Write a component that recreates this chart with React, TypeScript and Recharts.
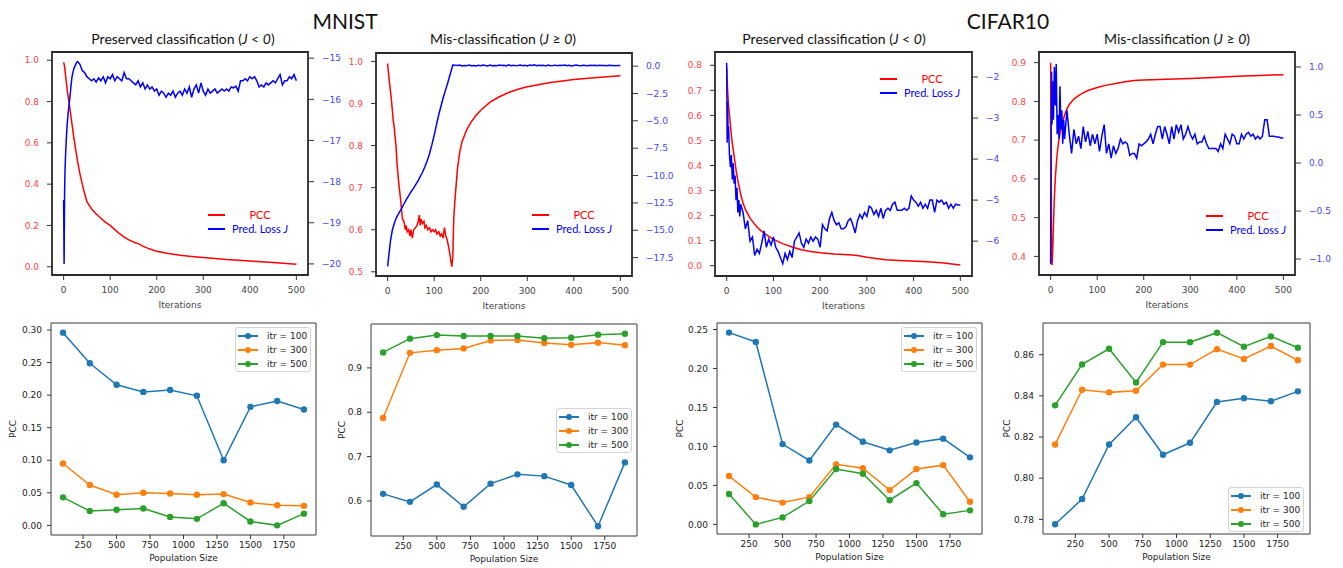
import React from 'react'
import { LineChart, Line, XAxis, YAxis, ReferenceArea, Legend } from 'recharts'

const TICK_FONT = '"DejaVu Sans", sans-serif'
const TITLE_FONT = 'Lato, sans-serif'

// ---------- top row: PCC and predicted loss over iterations ----------
const ITER_TICKS = [0, 100, 200, 300, 400, 500]
const ITER_DOMAIN = [-25, 525]

// iterations at which the loss traces were read
const LOSS_ITER = [
  0, 1, 2, 3, 4, 6, 8, 10, 12, 14, 16, 18, 20, 22, 24, 26, 28, 30,
  35, 40, 45, 50, 55, 60, 65, 70, 75, 80,
  85, 90, 95, 100, 105, 110, 115, 120, 125, 130,
  135, 140, 145, 150, 155, 160, 165, 170, 175, 180,
  185, 190, 195, 200, 205, 210, 215, 220, 225, 230,
  235, 240, 245, 250, 255, 260, 265, 270, 275, 280,
  285, 290, 295, 300, 305, 310, 315, 320, 325, 330,
  335, 340, 345, 350, 355, 360, 365, 370, 375, 380,
  385, 390, 395, 400, 405, 410, 415, 420, 425, 430,
  435, 440, 445, 450, 455, 460, 465, 470, 475, 480,
  485, 490, 495, 500,
]

const MNIST_PRES_LOSS = [
  -18.45, -20.0, -18.3, -17.7, -17.4, -16.9, -16.55, -16.3, -16.1, -15.9, -15.65, -15.45, -15.35, -15.25, -15.2, -15.15, -15.1, -15.08,
  -15.15, -15.3, -15.35, -15.45, -15.5, -15.55, -15.5, -15.58, -15.48, -15.55,
  -15.45, -15.6, -15.45, -15.5, -15.4, -15.55, -15.45, -15.5, -15.55, -15.35,
  -15.5, -15.5, -15.55, -15.6, -15.65, -15.55, -15.7, -15.6, -15.75, -15.65,
  -15.75, -15.7, -15.8, -15.75, -15.9, -15.8, -15.85, -15.95, -15.85, -15.9,
  -15.8, -15.95, -15.85, -15.8, -15.9, -15.75, -15.85, -15.7, -15.95, -15.75,
  -15.65, -15.85, -15.6, -15.8, -15.9, -15.75, -15.85, -15.8, -15.75, -15.85,
  -15.8, -15.75, -15.8, -15.75, -15.8, -15.7, -15.72, -15.68, -15.8, -15.55,
  -15.55, -15.5, -15.55, -15.45, -15.5, -15.45, -15.55, -15.7, -15.65, -15.7,
  -15.6, -15.65, -15.6, -15.55, -15.6, -15.5, -15.4, -15.65, -15.55, -15.55,
  -15.45, -15.5, -15.4, -15.55,
]

const MNIST_MIS_LOSS = [
  -18.3, -17.9, -17.5, -17.1, -16.8, -16.0, -15.5, -15.0, -14.7, -14.4, -14.15, -13.95, -13.75, -13.6, -13.45, -13.3, -13.15, -13.0,
  -12.6, -12.2, -11.85, -11.5, -11.2, -10.85, -10.5, -10.1, -9.7, -9.2,
  -8.65, -8.0, -7.2, -6.3, -5.35, -4.4, -3.6, -2.8, -2.1, -1.4,
  -0.65, 0.1, 0.08, 0.05, 0.1, 0.02, 0.06, 0.04, 0.1, 0.03,
  0.06, 0.02, 0.08, 0.04, 0.1, 0.05, 0.02, 0.09, 0.04, 0.06,
  0.03, 0.1, 0.05, 0.07, 0.02, 0.12, 0.04, 0.08, 0.03, 0.06,
  0.1, 0.04, 0.07, 0.02, 0.09, 0.05, 0.12, 0.03, 0.07, 0.05,
  0.08, 0.02, 0.1, 0.04, 0.06, 0.09, 0.03, 0.07, 0.05, 0.1,
  0.04, 0.08, 0.02, 0.06, 0.1, 0.05, 0.03, 0.08, 0.06, 0.04,
  0.09, 0.05, 0.07, 0.03, 0.08, 0.05, 0.06, 0.04, 0.07, 0.05,
  0.06, 0.04, 0.05, 0.05,
]

const CIFAR_PRES_LOSS = [
  -1.65, -3.6, -2.6, -3.5, -3.2, -3.9, -4.2, -3.9, -4.5, -4.1, -4.6, -4.4, -5.0, -4.7, -5.3, -5.0, -5.4, -5.1,
  -5.3, -5.7, -5.5, -6.0, -5.9, -6.35, -6.2, -6.3, -6.05, -5.75,
  -6.15, -5.95, -6.1, -5.9, -6.15, -6.25, -6.4, -6.55, -6.3, -6.45,
  -6.25, -6.4, -6.0, -5.9, -5.8, -6.05, -6.15, -5.95, -6.05, -5.9,
  -6.0, -5.9, -5.95, -6.15, -5.6, -5.7, -5.75, -5.45, -5.3, -5.5,
  -5.6, -5.55, -5.7, -5.7, -5.65, -5.5, -5.45, -5.6, -5.8, -5.5,
  -5.35, -5.45, -5.3, -5.4, -5.15, -5.2, -5.35, -5.25, -5.4, -5.2,
  -5.45, -5.25, -5.2, -5.25, -5.1, -5.05, -5.25, -5.25, -5.25, -5.2,
  -5.25, -5.2, -4.9, -5.0, -5.05, -5.15, -5.05, -5.2, -5.1, -5.2,
  -5.0, -5.0, -5.3, -5.0, -5.05, -5.0, -5.1, -5.05, -5.2, -5.1,
  -5.2, -5.1, -5.12, -5.12,
]

const CIFAR_MIS_LOSS = [
  -1.05, 0.3, 0.95, 0.4, 0.85, 0.45, 1.0, 0.6, 1.03, 0.3, 0.5, 0.25, 0.8, 0.35, 0.55, 0.2, 0.45, 0.25,
  0.55, 0.3, 0.1, 0.35, 0.2, 0.28, 0.15, 0.38, 0.22, 0.33,
  0.18, 0.3, 0.2, 0.3, 0.12, 0.28, 0.4, 0.1, 0.2, 0.05,
  0.18, 0.1, 0.15, 0.25, 0.2, 0.22, 0.2, 0.08, 0.1, 0.1,
  0.05, 0.2, 0.18, 0.2, 0.22, 0.25, 0.3, 0.2, 0.3, 0.38,
  0.38, 0.25, 0.38, 0.3, 0.2, 0.38, 0.25, 0.4, 0.32, 0.4,
  0.25, 0.3, 0.38, 0.3, 0.25, 0.3, 0.2, 0.22, 0.22, 0.28,
  0.2, 0.15, 0.15, 0.15, 0.15, 0.12, 0.2, 0.15, 0.3, 0.25,
  0.2, 0.3, 0.28, 0.2, 0.2, 0.3, 0.25, 0.3, 0.32, 0.28,
  0.3, 0.25, 0.28, 0.25, 0.28, 0.45, 0.45, 0.28, 0.28, 0.28,
  0.27, 0.27, 0.26, 0.26,
]

const MNIST_PRES_PCC_ITER = [0, 2, 4, 6, 8, 10, 12, 15, 18, 21, 25, 30, 35, 40, 45, 50, 60, 70, 80, 90, 100, 110, 120, 130, 140, 150, 160, 170, 180, 190, 200, 225, 250, 275, 300, 350, 400, 450, 500]
const MNIST_PRES_PCC = [0.99, 0.97, 0.93, 0.89, 0.85, 0.82, 0.79, 0.74, 0.69, 0.64, 0.58, 0.51, 0.45, 0.4, 0.355, 0.315, 0.28, 0.255, 0.235, 0.215, 0.2, 0.18, 0.16, 0.143, 0.13, 0.12, 0.112, 0.1, 0.09, 0.082, 0.075, 0.064, 0.056, 0.05, 0.045, 0.035, 0.028, 0.02, 0.012]

const MNIST_MIS_PCC_ITER = [0, 2, 4, 6, 8, 10, 12, 14, 16, 18, 20, 22, 24, 26, 28, 30, 32, 35, 38, 40, 42, 45, 48, 50, 53, 56, 60, 63, 66, 68, 70, 72, 75, 78, 80, 83, 86, 90, 93, 96, 100, 103, 106, 110, 113, 116, 119, 122, 125, 128, 131, 134, 136, 138, 140, 141, 142, 144, 146, 150, 155, 160, 170, 180, 190, 200, 220, 240, 260, 280, 300, 350, 400, 450, 500]
const MNIST_MIS_PCC = [0.995, 0.97, 0.95, 0.93, 0.91, 0.885, 0.86, 0.845, 0.82, 0.8, 0.76, 0.735, 0.71, 0.69, 0.67, 0.645, 0.625, 0.62, 0.6, 0.61, 0.595, 0.6, 0.585, 0.6, 0.58, 0.6, 0.605, 0.61, 0.62, 0.635, 0.61, 0.625, 0.615, 0.62, 0.605, 0.61, 0.6, 0.605, 0.595, 0.6, 0.595, 0.6, 0.59, 0.595, 0.585, 0.59, 0.58, 0.605, 0.585, 0.575, 0.56, 0.54, 0.525, 0.512, 0.535, 0.58, 0.625, 0.66, 0.69, 0.745, 0.785, 0.81, 0.838, 0.857, 0.872, 0.884, 0.903, 0.916, 0.926, 0.934, 0.94, 0.95, 0.957, 0.962, 0.966]

const CIFAR_PRES_PCC_ITER = [0, 2, 4, 6, 8, 10, 12, 15, 18, 21, 25, 30, 35, 40, 50, 60, 70, 80, 90, 100, 120, 140, 160, 180, 200, 230, 260, 280, 300, 340, 380, 420, 460, 500]
const CIFAR_PRES_PCC = [0.79, 0.7, 0.64, 0.6, 0.56, 0.52, 0.49, 0.45, 0.41, 0.37, 0.33, 0.285, 0.25, 0.225, 0.19, 0.165, 0.145, 0.13, 0.117, 0.105, 0.088, 0.075, 0.064, 0.057, 0.052, 0.047, 0.044, 0.041, 0.034, 0.024, 0.02, 0.017, 0.012, 0.003]

const CIFAR_MIS_PCC_ITER = [0, 1, 2, 3, 4, 5, 6, 7, 8, 10, 12, 14, 17, 20, 25, 30, 35, 40, 50, 60, 70, 80, 100, 120, 140, 160, 180, 200, 250, 300, 350, 400, 450, 500]
const CIFAR_MIS_PCC = [0.9, 0.65, 0.38, 0.38, 0.4, 0.44, 0.48, 0.52, 0.55, 0.6, 0.635, 0.665, 0.695, 0.717, 0.745, 0.765, 0.78, 0.792, 0.806, 0.815, 0.822, 0.828, 0.836, 0.842, 0.846, 0.851, 0.854, 0.855, 0.857, 0.859, 0.862, 0.865, 0.867, 0.869]

// ---------- bottom row: PCC vs population size ----------
const POP_SIZES = [100, 300, 500, 700, 900, 1100, 1300, 1500, 1700, 1900]
const POP_TICKS = [250, 500, 750, 1000, 1250, 1500, 1750]
const POP_DOMAIN = [10, 1990]

const MNIST_PRES_100 = [0.296, 0.249, 0.216, 0.205, 0.208, 0.199, 0.1, 0.182, 0.191, 0.178]
const MNIST_PRES_300 = [0.095, 0.062, 0.047, 0.05, 0.049, 0.047, 0.048, 0.035, 0.031, 0.03]
const MNIST_PRES_500 = [0.043, 0.022, 0.024, 0.026, 0.013, 0.01, 0.034, 0.006, 0.0, 0.018]

const MNIST_MIS_100 = [0.616, 0.598, 0.637, 0.587, 0.639, 0.66, 0.656, 0.636, 0.543, 0.687]
const MNIST_MIS_300 = [0.787, 0.934, 0.94, 0.944, 0.962, 0.963, 0.956, 0.952, 0.957, 0.951]
const MNIST_MIS_500 = [0.935, 0.966, 0.974, 0.972, 0.972, 0.972, 0.967, 0.968, 0.975, 0.977]

const CIFAR_PRES_100 = [0.246, 0.234, 0.103, 0.082, 0.128, 0.106, 0.095, 0.105, 0.11, 0.086]
const CIFAR_PRES_300 = [0.062, 0.035, 0.028, 0.035, 0.077, 0.072, 0.044, 0.071, 0.076, 0.029]
const CIFAR_PRES_500 = [0.039, 0.0, 0.009, 0.03, 0.071, 0.065, 0.031, 0.053, 0.013, 0.018]

const CIFAR_MIS_100 = [0.7776, 0.7899, 0.8164, 0.8296, 0.8114, 0.8172, 0.837, 0.8389, 0.8374, 0.8422]
const CIFAR_MIS_300 = [0.8164, 0.843, 0.8417, 0.8425, 0.8552, 0.8552, 0.8627, 0.8579, 0.8642, 0.8573]
const CIFAR_MIS_500 = [0.8354, 0.8553, 0.8629, 0.8465, 0.8661, 0.8661, 0.8707, 0.8639, 0.8689, 0.8634]

const ITR_SERIES = [
  { key: 'a', name: 'itr = 100', color: '#1f77b4' },
  { key: 'b', name: 'itr = 300', color: '#ff7f0e' },
  { key: 'c', name: 'itr = 500', color: '#2ca02c' },
]

const zip = (xs: number[], ys: number[]) => xs.map((x, i) => ({ x, y: ys[i] }))
const popTable = (a: number[], b: number[], c: number[]) =>
  POP_SIZES.map((x, i) => ({ x, a: a[i], b: b[i], c: c[i] }))

const fmt = (d: number) => (v: number) => (v < 0 ? '\u2212' : '') + Math.abs(v).toFixed(d)

const xLabel = (text: string, dy: number, fill: string) => (p: any) => {
  const vb = p.viewBox
  return (
    <text x={vb.x + vb.width / 2} y={vb.y + dy} textAnchor="middle" dominantBaseline="central"
      fontSize={9} fontFamily={TICK_FONT} fill={fill}>{text}</text>
  )
}

const yLabel = (text: string, dx: number) => (p: any) => {
  const vb = p.viewBox
  const cx = vb.x + vb.width - dx
  const cy = vb.y + vb.height / 2
  return (
    <text x={cx} y={cy} transform={`rotate(-90 ${cx} ${cy})`} textAnchor="middle" dominantBaseline="central"
      fontSize={9} fontFamily={TICK_FONT} fill="#222">{text}</text>
  )
}

const TopLegend = ({ payload }: any) => (
  <div style={{ fontFamily: TITLE_FONT, fontSize: 11, width: 90 }}>
    {(payload || []).map((e: any) => (
      <div key={e.value} style={{ display: 'flex', alignItems: 'center', height: 14 }}>
        <div style={{ width: 17, height: 2, background: e.color }} />
        <div style={{ width: 62, marginLeft: 4, textAlign: 'center', color: e.color, whiteSpace: 'nowrap', lineHeight: '14px' }}>
          {e.value === 'Pred. Loss J' ? <>Pred. Loss <i>J</i></> : e.value}
        </div>
      </div>
    ))}
  </div>
)

const BottomLegend = ({ payload }: any) => (
  <div style={{
    width: 74, height: 42, paddingTop: 1, border: '1px solid #d4d4d4', borderRadius: 3,
    background: 'rgba(255,255,255,0.85)', fontFamily: TICK_FONT, fontSize: 9, color: '#222',
  }}>
    {(payload || []).map((e: any) => (
      <div key={e.value} style={{ position: 'relative', height: 14 }}>
        <div style={{ position: 'absolute', left: 2, top: 6.3, width: 20, height: 1.5, background: e.color }} />
        <div style={{ position: 'absolute', left: 8.8, top: 3.8, width: 6.5, height: 6.5, borderRadius: '50%', background: e.color }} />
        <div style={{ position: 'absolute', left: 31, top: 0, lineHeight: '14px', whiteSpace: 'nowrap' }}>{e.value}</div>
      </div>
    ))}
  </div>
)

type Box = { x0: number; y0: number; x1: number; y1: number }
type Side = { domain: number[]; ticks: number[]; digits: number }

function TopPanel({ box, left, right, pcc, loss, legendAt }: {
  box: Box; left: Side; right: Side; pcc: any[]; loss: any[]; legendAt: { x: number; y: number }
}) {
  const LW = 44, RW = 48, MT = 4, XH = 44
  const pw = box.x1 - box.x0
  const ph = box.y1 - box.y0
  return (
    <div style={{ position: 'absolute', left: box.x0 - LW, top: box.y0 - MT }}>
      <LineChart width={LW + pw + RW} height={MT + ph + XH} margin={{ top: MT, right: 0, bottom: 0, left: 0 }}>
        <XAxis type="number" dataKey="x" domain={ITER_DOMAIN} ticks={ITER_TICKS} allowDataOverflow
          height={XH} axisLine={false} tickSize={5} tickMargin={7} stroke="#333"
          tick={{ fill: '#444', fontSize: 9, fontFamily: TICK_FONT }}
          label={xLabel('Iterations', 30, '#444')} />
        <YAxis yAxisId="l" type="number" domain={left.domain} ticks={left.ticks} tickFormatter={fmt(left.digits)}
          allowDataOverflow width={LW} axisLine={false} tickSize={5} tickMargin={8} stroke="#333"
          tick={{ fill: '#ff4545', fontSize: 9, fontFamily: TICK_FONT }} />
        <YAxis yAxisId="r" orientation="right" type="number" domain={right.domain} ticks={right.ticks}
          tickFormatter={fmt(right.digits)} allowDataOverflow width={RW} axisLine={false} tickSize={6} tickMargin={8}
          stroke="#333" tick={{ fill: '#4545ff', fontSize: 9, fontFamily: TICK_FONT }} />
        <ReferenceArea yAxisId="l" x1={ITER_DOMAIN[0]} x2={ITER_DOMAIN[1]} y1={left.domain[0]} y2={left.domain[1]}
          fill="none" fillOpacity={0} stroke="#2a2a2a" strokeWidth={1.8} ifOverflow="visible" />
        <Line yAxisId="l" data={pcc} dataKey="y" name="PCC" stroke="#ff0000" strokeWidth={1.5}
          dot={false} isAnimationActive={false} />
        <Line yAxisId="r" data={loss} dataKey="y" name="Pred. Loss J" stroke="#0000ff" strokeWidth={1.5}
          dot={false} isAnimationActive={false} />
        <Legend layout="horizontal" verticalAlign="middle" align="center" content={TopLegend}
          wrapperStyle={{ left: LW + legendAt.x, top: MT + legendAt.y - 7, width: 90 }} />
      </LineChart>
    </div>
  )
}

function BottomPanel({ box, data, domain, ticks, digits, legendAt, labelDx }: {
  box: Box; data: any[]; domain: number[]; ticks: number[]; digits: number; legendAt: { x: number; y: number }; labelDx: number
}) {
  const LW = 50, RW = 10, MT = 4, XH = 34
  const pw = box.x1 - box.x0
  const ph = box.y1 - box.y0
  return (
    <div style={{ position: 'absolute', left: box.x0 - LW, top: box.y0 - MT }}>
      <LineChart data={data} width={LW + pw + RW} height={MT + ph + XH} margin={{ top: MT, right: RW, bottom: 0, left: 0 }}>
        <XAxis type="number" dataKey="x" domain={POP_DOMAIN} ticks={POP_TICKS} allowDataOverflow
          height={XH} axisLine={false} tickSize={4} tickMargin={3} stroke="#333"
          tick={{ fill: '#222', fontSize: 9, fontFamily: TICK_FONT }}
          label={xLabel('Population Size', 23, '#222')} />
        <YAxis type="number" domain={domain} ticks={ticks} tickFormatter={fmt(digits)} allowDataOverflow
          width={LW} axisLine={false} tickSize={4} tickMargin={5} stroke="#333"
          tick={{ fill: '#222', fontSize: 9, fontFamily: TICK_FONT }}
          label={yLabel('PCC', labelDx)} />
        <ReferenceArea x1={POP_DOMAIN[0]} x2={POP_DOMAIN[1]} y1={domain[0]} y2={domain[1]}
          fill="none" fillOpacity={0} stroke="#3a3a3a" strokeWidth={1} ifOverflow="visible" />
        {ITR_SERIES.map((s) => (
          <Line key={s.key} dataKey={s.key} name={s.name} stroke={s.color} strokeWidth={1.5}
            dot={{ r: 3.2, fill: s.color, stroke: s.color, strokeWidth: 0 }} isAnimationActive={false} />
        ))}
        <Legend layout="horizontal" verticalAlign="middle" align="center" content={BottomLegend}
          wrapperStyle={{ left: LW + legendAt.x, top: MT + legendAt.y, width: 76 }} />
      </LineChart>
    </div>
  )
}

const TITLES = [
  { x: 183, text: 'Preserved classification', op: '<' },
  { x: 503, text: 'Mis-classification', op: '\u2265' },
  { x: 834, text: 'Preserved classification', op: '<' },
  { x: 1177, text: 'Mis-classification', op: '\u2265' },
]

const DATASETS = [
  { x: 345, text: 'MNIST' },
  { x: 1008, text: 'CIFAR10' },
]

export default function App() {
  return (
    <div style={{ position: 'absolute', left: 0, top: 0, width: 1343, height: 568, background: '#fff', overflow: 'hidden' }}>
      {DATASETS.map((d) => (
        <div key={d.text} style={{
          position: 'absolute', left: d.x, top: 8, transform: 'translateX(-50%)', fontFamily: TITLE_FONT,
          fontSize: 21, lineHeight: '26px', color: '#111', whiteSpace: 'nowrap',
        }}>{d.text}</div>
      ))}
      {TITLES.map((t) => (
        <div key={t.x} style={{
          position: 'absolute', left: t.x, top: 29.5, transform: 'translateX(-50%)', fontFamily: TITLE_FONT,
          fontSize: 14, lineHeight: '18px', color: '#111', whiteSpace: 'nowrap',
        }}>{t.text} (<i>J</i> {t.op} <i>0</i>)</div>
      ))}

      <TopPanel box={{ x0: 52, y0: 52, x1: 308, y1: 275 }}
        left={{ domain: [-0.04, 1.04], ticks: [0, 0.2, 0.4, 0.6, 0.8, 1.0], digits: 1 }}
        right={{ domain: [-20.27, -14.85], ticks: [-20, -19, -18, -17, -16, -15], digits: 0 }}
        pcc={zip(MNIST_PRES_PCC_ITER, MNIST_PRES_PCC)} loss={zip(LOSS_ITER, MNIST_PRES_LOSS)}
        legendAt={{ x: 156, y: 163 }} />
      <TopPanel box={{ x0: 376, y0: 53, x1: 632, y1: 276 }}
        left={{ domain: [0.49, 1.02], ticks: [0.5, 0.6, 0.7, 0.8, 0.9, 1.0], digits: 1 }}
        right={{ domain: [-19.18, 1.2], ticks: [-17.5, -15, -12.5, -10, -7.5, -5, -2.5, 0], digits: 1 }}
        pcc={zip(MNIST_MIS_PCC_ITER, MNIST_MIS_PCC)} loss={zip(LOSS_ITER, MNIST_MIS_LOSS)}
        legendAt={{ x: 156, y: 162 }} />
      <TopPanel box={{ x0: 715, y0: 52, x1: 972, y1: 276 }}
        left={{ domain: [-0.041, 0.853], ticks: [0, 0.1, 0.2, 0.3, 0.4, 0.5, 0.6, 0.7, 0.8], digits: 1 }}
        right={{ domain: [-6.85, -1.39], ticks: [-6, -5, -4, -3, -2], digits: 0 }}
        pcc={zip(CIFAR_PRES_PCC_ITER, CIFAR_PRES_PCC)} loss={zip(LOSS_ITER, CIFAR_PRES_LOSS)}
        legendAt={{ x: 165, y: 27 }} />
      <TopPanel box={{ x0: 1039, y0: 52, x1: 1295, y1: 275 }}
        left={{ domain: [0.352, 0.9275], ticks: [0.4, 0.5, 0.6, 0.7, 0.8, 0.9], digits: 1 }}
        right={{ domain: [-1.166, 1.156], ticks: [-1, -0.5, 0, 0.5, 1], digits: 1 }}
        pcc={zip(CIFAR_MIS_PCC_ITER, CIFAR_MIS_PCC)} loss={zip(LOSS_ITER, CIFAR_MIS_LOSS)}
        legendAt={{ x: 167, y: 164 }} />

      <BottomPanel box={{ x0: 51, y0: 323, x1: 316, y1: 535 }}
        data={popTable(MNIST_PRES_100, MNIST_PRES_300, MNIST_PRES_500)}
        domain={[-0.0148, 0.3108]} ticks={[0, 0.05, 0.1, 0.15, 0.2, 0.25, 0.3]} digits={2}
        legendAt={{ x: 184, y: 4 }} labelDx={38} />
      <BottomPanel box={{ x0: 371, y0: 324, x1: 637, y1: 536 }}
        data={popTable(MNIST_MIS_100, MNIST_MIS_300, MNIST_MIS_500)}
        domain={[0.521, 0.999]} ticks={[0.6, 0.7, 0.8, 0.9]} digits={1}
        legendAt={{ x: 185, y: 84 }} labelDx={29} />
      <BottomPanel box={{ x0: 717, y0: 323, x1: 982, y1: 534 }}
        data={popTable(CIFAR_PRES_100, CIFAR_PRES_300, CIFAR_PRES_500)}
        domain={[-0.0123, 0.2583]} ticks={[0, 0.05, 0.1, 0.15, 0.2, 0.25]} digits={2}
        legendAt={{ x: 184, y: 4 }} labelDx={37} />
      <BottomPanel box={{ x0: 1043, y0: 323, x1: 1310, y1: 534 }}
        data={popTable(CIFAR_MIS_100, CIFAR_MIS_300, CIFAR_MIS_500)}
        domain={[0.7729, 0.8754]} ticks={[0.78, 0.8, 0.82, 0.84, 0.86]} digits={2}
        legendAt={{ x: 185, y: 164 }} labelDx={36} />
    </div>
  )
}
